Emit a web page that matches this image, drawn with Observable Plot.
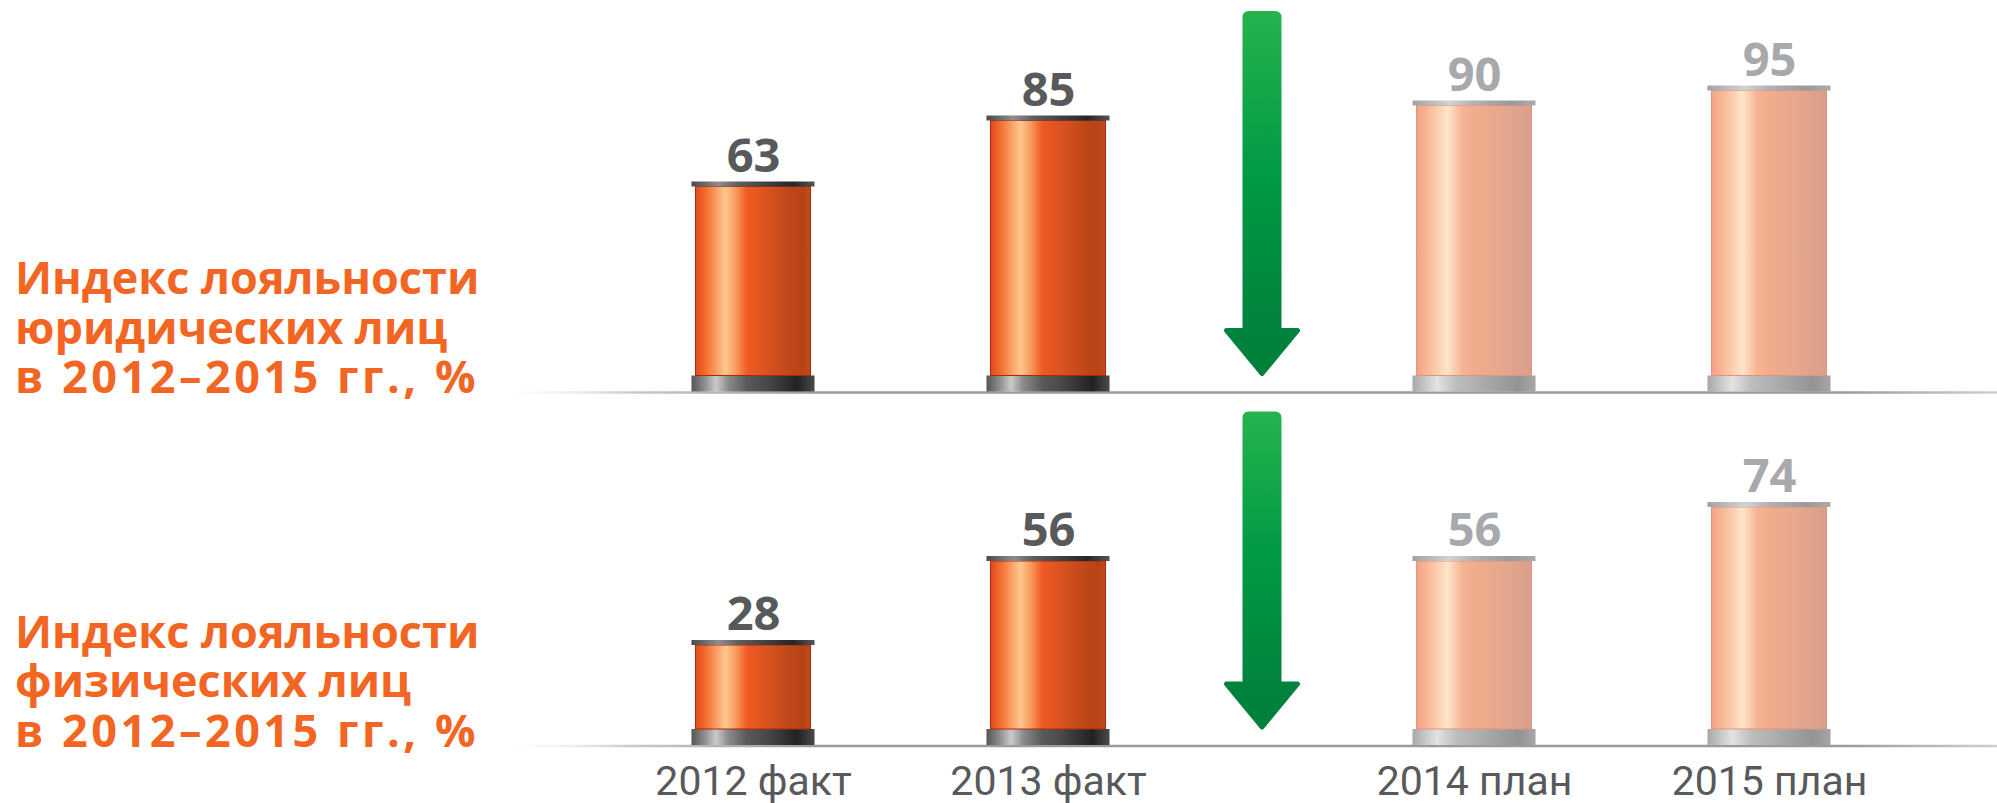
<!DOCTYPE html>
<html><head><meta charset="utf-8">
<script src="https://cdn.jsdelivr.net/npm/d3@7"></script>
<script src="https://cdn.jsdelivr.net/npm/@observablehq/plot@0.6"></script>
<style>html,body{margin:0;padding:0;background:#fff;} #chart{width:1997px;height:803px;}</style>
</head><body><div id="chart"></div>
<script>
// ---- data ----
const categories = ["2012 факт", "2013 факт", "2014 план", "2015 план"];
const panelKeys = ["юридические лица", "физические лица"];
const panelTitles = [
  "Индекс лояльности\nюридических лиц\nв 2012–2015 гг., %",
  "Индекс лояльности\nфизических лиц\nв 2012–2015 гг., %"
];
const legalValues = [63, 85, 90, 95];
const individualValues = [28, 56, 56, 74];

// ---- tables built from the arrays ----
const seriesByPanel = [legalValues, individualValues];
const rows = panelKeys.flatMap((panel, p) =>
  categories.map((cat, i) => ({panel, cat, value: seriesByPanel[p][i], plan: cat.includes("план")})));
const factRows = rows.filter(d => !d.plan);
const planRows = rows.filter(d => d.plan);
const factCats = categories.filter(c => !c.includes("план"));
const planCats = categories.filter(c => c.includes("план"));
const panels = panelKeys.map((key, i) => ({key, title: panelTitles[i]}));

// ---- layout / style ----
const PLAN_SHIFT = 131;     // extra gap before the plan group
const ARROW_SHIFT = 213.5;  // arrow sits between the groups
const TITLE_FONT = "'Open Sans', 'Noto Sans', sans-serif";

function cylinders(data, body, cap, base, stroke, labelColor, shift) {
  return [
    Plot.barY(data, {x: "cat", y1: () => 0, y2: () => 0, fy: "panel", insetBottom: -16, insetLeft: -4, insetRight: -4, fill: base, dx: shift}),
    Plot.barY(data, {x: "cat", y: "value", fy: "panel", fill: body, stroke, strokeWidth: 1, dx: shift}),
    Plot.barY(data, {x: "cat", y1: "value", y2: "value", fy: "panel", insetTop: -5, insetLeft: -4, insetRight: -4, fill: cap, dx: shift}),
    Plot.text(data, {x: "cat", y: "value", fy: "panel", text: d => String(d.value), lineAnchor: "bottom", dy: -15, dx: shift,
      fontSize: 47, fontWeight: 700, fontFamily: TITLE_FONT, fill: labelColor})
  ];
}

const blockArrow = {
  draw(context, l) {
    const w = 17, hw = 35.5, hl = 43, r = 4;
    context.moveTo(0, 0);
    context.lineTo(w - r, 0);
    context.quadraticCurveTo(w, 0, w, -r);
    context.lineTo(w, -(l - hl));
    context.lineTo(hw, -(l - hl));
    context.lineTo(0, -l);
    context.lineTo(-hw, -(l - hl));
    context.lineTo(-w, -(l - hl));
    context.lineTo(-w, -r);
    context.quadraticCurveTo(-w, 0, -w + r, 0);
    context.closePath();
  }
};
const arrowOpts = {x: () => "2013 факт", y: () => 0, fy: "key", dx: ARROW_SHIFT, dy: -2.5, rotate: 180, anchor: "end",
  shape: blockArrow, fill: "url(#gArrow)", stroke: "url(#gArrow)", strokeWidth: 5, strokeLinejoin: "round"};

const svg = Plot.plot({
  width: 1997,
  height: 803,
  marginTop: 75.5,
  marginBottom: 74,
  marginLeft: 605.5,
  marginRight: 211.5,
  style: {background: "white", fontFamily: TITLE_FONT},
  x: {domain: categories, axis: null, paddingInner: 0.61, paddingOuter: 0.305, round: false},
  y: {domain: [0, 100], axis: null},
  fy: {domain: panelKeys, axis: null, paddingInner: 0.15134, paddingOuter: 0, round: false},
  marks: [
    Plot.ruleY([0], {dy: 16.5, insetLeft: -120, insetRight: -211.5, stroke: "url(#gLine)", strokeWidth: 2.5}),
    ...cylinders(factRows, "url(#gFact)", "url(#gCapFact)", "url(#gBaseFact)", "#B0260C", "#58595B", 0),
    ...cylinders(planRows, "url(#gPlan)", "url(#gCapPlan)", "url(#gBasePlan)", "#E3937F", "#A7A9AC", PLAN_SHIFT),
    Plot.vector([panels[0]], {...arrowOpts, length: 360}),
    Plot.vector([panels[1]], {...arrowOpts, length: 313}),
    Plot.text(panels, {fy: "key", text: "title", frameAnchor: "bottom-left", textAnchor: "start", lineAnchor: "bottom",
      dx: -591, dy: 17, fontSize: 45, lineHeight: 1.1, fontWeight: 700, fill: "#F26522", fontFamily: TITLE_FONT}),
    Plot.text(factCats, {x: d => d, fy: () => panelKeys[1], frameAnchor: "bottom", lineAnchor: "bottom", dy: 65,
      fontSize: 41, fontFamily: "Roboto", fill: "#58595B"}),
    Plot.text(planCats, {x: d => d, fy: () => panelKeys[1], frameAnchor: "bottom", lineAnchor: "bottom", dy: 65, dx: PLAN_SHIFT,
      fontSize: 41, fontFamily: "Roboto", fill: "#58595B"})
  ]
});

// wider tracking on the year line of the titles, as in the original typeface
d3.select(svg).selectAll("tspan").filter(function () { return this.textContent.startsWith("в 20"); })
  .attr("letter-spacing", "3.5px");

const defs = d3.select(svg).insert("defs", ":first-child");
function gradient(id, stops, opts = {}) {
  const g = defs.append("linearGradient").attr("id", id)
    .attr("x1", opts.x1 ?? 0).attr("y1", opts.y1 ?? 0).attr("x2", opts.x2 ?? 1).attr("y2", opts.y2 ?? 0);
  if (opts.units) g.attr("gradientUnits", opts.units);
  for (const [o, c, a] of stops) g.append("stop").attr("offset", o).attr("stop-color", c).attr("stop-opacity", a ?? 1);
}
gradient("gFact", [[0, "#E04A1C"], [0.08, "#F26A2C"], [0.26, "#FFC78F"], [0.34, "#F9A062"], [0.45, "#F05A22"], [0.62, "#DA5220"], [0.8, "#C0481A"], [0.93, "#B64316"], [1, "#C04A1C"]]);
gradient("gPlan", [[0, "#F1A283"], [0.1, "#F8B898"], [0.27, "#FEE4CA"], [0.4, "#F6B393"], [0.5, "#F2AC8C"], [0.75, "#E5A78E"], [1, "#D89F8A"]]);
gradient("gCapFact", [[0, "#4A4A4A"], [0.22, "#8E8E8E"], [0.38, "#5E5E5E"], [0.82, "#262626"], [1, "#555555"]]);
gradient("gBaseFact", [[0, "#555555"], [0.1, "#8A8A8A"], [0.2, "#CACACA"], [0.3, "#8A8A8A"], [0.45, "#5A5A5A"], [0.6, "#4A4A4A"], [0.86, "#222222"], [1, "#4A4A4A"]]);
gradient("gCapPlan", [[0, "#A2A2A2"], [0.3, "#D2D2D2"], [0.5, "#B2B2B2"], [0.8, "#9A9A9A"], [1, "#ABABAB"]]);
gradient("gBasePlan", [[0, "#A8A8A8"], [0.2, "#E3E3E3"], [0.35, "#BEBEBE"], [0.6, "#A9A9A9"], [0.86, "#939393"], [1, "#A6A6A6"]]);
gradient("gArrow", [[0, "#00803B"], [0.15, "#00843D"], [0.55, "#009A45"], [1, "#25B34C"]], {x2: 0, y2: 1});
gradient("gLine", [[0, "#FFFFFF", 0], [0.1, "#C8C8C8"], [0.22, "#9A9A9A"], [0.9, "#9A9A9A"], [1, "#D0D0D0"]],
  {units: "userSpaceOnUse", x1: 485, x2: 1997, y1: 0, y2: 0});

document.getElementById("chart").appendChild(svg);
</script>
</body></html>
